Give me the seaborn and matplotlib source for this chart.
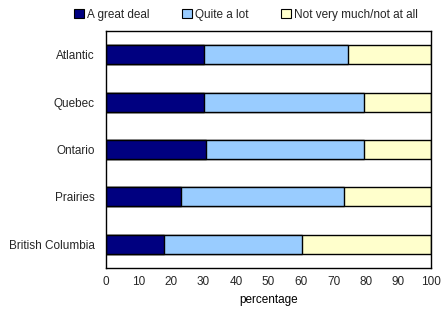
import matplotlib
matplotlib.use("Agg")
import matplotlib.pyplot as plt
import seaborn as sns
import pandas as pd
import numpy as np
from matplotlib.patches import Patch

regions = ["Atlantic", "Quebec", "Ontario", "Prairies", "British Columbia"]
great_deal = [30.0, 30.3, 30.8, 23.2, 17.8]
quite_lot = [44.5, 49.2, 48.7, 50.1, 42.4]
not_much = [25.5, 20.5, 20.5, 26.7, 39.8]
series_names = ["A great deal", "Quite a lot", "Not very much/not at all"]
colors = ["#000080", "#99CCFF", "#FFFFCC"]

sns.set_style("white")
plt.rcParams['font.family'] = ['Liberation Sans', 'DejaVu Sans']
plt.rcParams['font.size'] = 8.5

df = pd.DataFrame({"region": regions, "a": great_deal, "b": quite_lot, "c": not_much})
df["ab"] = df["a"] + df["b"]
df["abc"] = df["ab"] + df["c"]

fig = plt.figure(figsize=(4.42, 3.15), dpi=100)
ax = fig.add_axes([106/442, 1 - 268/315, 325/442, 237/315])

for col, color in zip(["abc", "ab", "a"], colors[::-1]):
    sns.barplot(data=df, x=col, y="region", order=regions, color=color,
                edgecolor="black", linewidth=1.0, width=0.4, ax=ax, saturation=1)

ax.set_xlim(0, 100)
ax.set_xticks(np.arange(0, 101, 10))
ax.set_xlabel("percentage", color="black", labelpad=4)
ax.set_ylabel("")
ax.tick_params(axis="x", direction="in", length=4, width=0.8, color="black", pad=6, labelsize=8.5)
ax.tick_params(axis="y", length=0, pad=8, labelsize=8.5)
for s in ax.spines.values():
    s.set_visible(True)
    s.set_color("black")
    s.set_linewidth(1.0)

handles = [Patch(facecolor=c, edgecolor="black", linewidth=0.8) for c in colors]
fig.legend(handles, series_names, loc="center", bbox_to_anchor=(246/442, 1 - 15/315), ncol=3,
           frameon=False, handlelength=0.8, handleheight=0.8, handletextpad=0.25,
           columnspacing=2.8, fontsize=8.5)

fig.savefig("out.png", dpi=100)
